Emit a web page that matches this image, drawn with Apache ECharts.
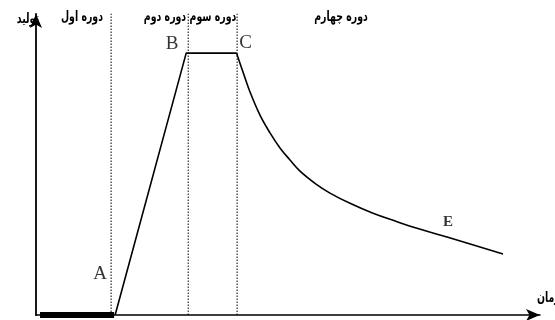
<!DOCTYPE html>
<html><head><meta charset="utf-8">
<script src="https://cdn.jsdelivr.net/npm/echarts@6/dist/echarts.min.js"></script>
<style>html,body{margin:0;padding:0;background:#fff}#c{width:555px;height:320px}</style>
</head><body><div id="c"></div>
<script>
// Data (x: time units 0-100, y: production 0-100)
const riseX = [15.7, 29.8, 39.8];
const riseY = [0, 87, 87];
const decayX = [39.8, 41.07, 42.46, 44.44, 46.43, 48.41, 50.4, 52.38, 55.56, 58.33, 62.3, 66.87, 71.63, 75.6, 81.55, 92.66];
const decayY = [87, 80.7, 74.1, 66.4, 60.5, 55.5, 51.5, 47.8, 43.5, 40.5, 37.1, 33.8, 31.0, 28.8, 25.9, 20.3];
const idleX = [0.8, 15.5];
const idleY = [0, 0];
const boundaryX = [14.9, 30.2, 39.9];
const periodNames = ['دوره اول', 'دوره دوم', 'دوره سوم', 'دوره چهارم'];
const pointNames = ['A', 'B', 'C', 'E'];
const pointX = [15.7, 29.8, 39.8, 81.55];
const pointY = [0, 87, 87, 25.9];

const zip = (xs, ys) => xs.map((x, i) => [x, ys[i]]);
const labelOffsets = [[-15, -26], [-14, 5], [9, 4], [1, -2]];

const series = [
  { type: 'line', data: zip(idleX, idleY), symbol: 'none', lineStyle: { color: '#000', width: 6 }, z: 5 },
  { type: 'line', data: zip(riseX, riseY), symbol: 'none', lineStyle: { color: '#000', width: 1.6 } },
  { type: 'line', data: zip(decayX, decayY), symbol: 'none', smooth: 0.4, lineStyle: { color: '#000', width: 1.6 } }
];
boundaryX.forEach(x => series.push({
  type: 'line', data: [[x, 0], [x, 100.8]], symbol: 'none',
  lineStyle: { color: '#000', width: 1, type: [1.5, 1.5] }
}));
series.push({
  type: 'scatter', symbolSize: 0,
  data: pointNames.map((n, i) => ({
    value: [pointX[i], pointY[i]],
    label: {
      show: true, formatter: n, position: 'top', offset: labelOffsets[i],
      color: '#000',
      fontFamily: 'Liberation Serif',
      fontSize: n === 'E' ? 15 : 19,
      fontWeight: n === 'E' ? 'bold' : 'normal'
    }
  }))
});

const periodCenters = [82, 165, 213, 341];
const arabicFont = 'bold 14px "DejaVu Sans"';
const graphics = periodNames.map((t, i) => ({
  type: 'text', x: periodCenters[i], y: 17, scaleX: 0.67,
  style: { text: t, fill: '#000', font: arabicFont, textAlign: 'center', textVerticalAlign: 'middle' }
}));
graphics.push({ type: 'text', x: 39, y: 19, scaleX: 0.67, style: { text: 'تولید', fill: '#000', font: arabicFont, textAlign: 'right', textVerticalAlign: 'middle' } });
graphics.push({ type: 'text', x: 537, y: 298, scaleX: 0.67, style: { text: 'زمان', fill: '#000', font: arabicFont, textAlign: 'left', textVerticalAlign: 'middle' } });

const chart = echarts.init(document.getElementById('c'));
chart.setOption({
  animation: false,
  grid: { left: 36, right: 15, top: 14, bottom: 5 },
  xAxis: {
    type: 'value', min: 0, max: 100,
    axisLine: { onZero: false, symbol: ['none', 'arrow'], symbolSize: [9, 14], lineStyle: { color: '#000', width: 1.5 } },
    axisTick: { show: false }, axisLabel: { show: false }, splitLine: { show: false }
  },
  yAxis: {
    type: 'value', min: 0, max: 100,
    axisLine: { show: true, onZero: false, symbol: ['none', 'arrow'], symbolSize: [9, 14], lineStyle: { color: '#000', width: 1.8 } },
    axisTick: { show: false }, axisLabel: { show: false }, splitLine: { show: false }
  },
  series: series,
  graphic: graphics
});
</script></body></html>
